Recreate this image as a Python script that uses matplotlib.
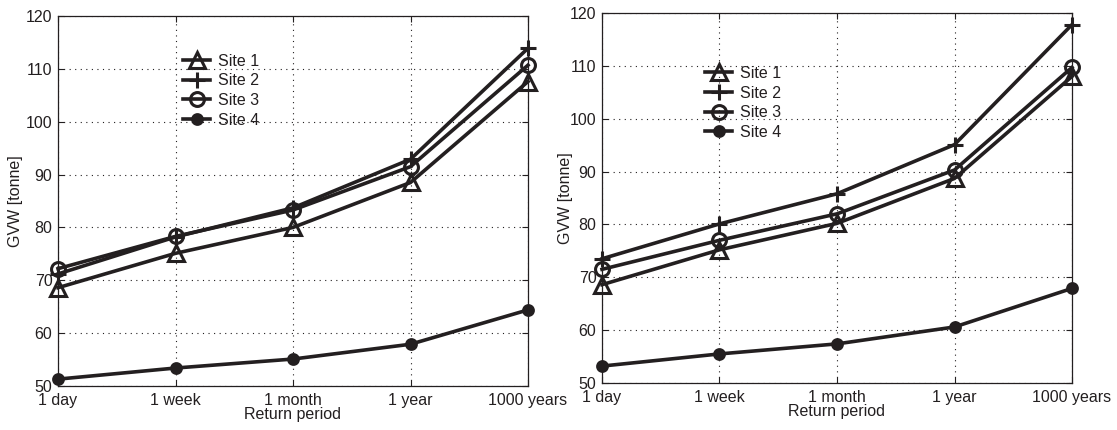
import matplotlib
matplotlib.use("Agg")
import matplotlib.pyplot as plt

plt.rcParams['font.family'] = ['Liberation Sans', 'DejaVu Sans']

periods = ["1 day", "1 week", "1 month", "1 year", "1000 years"]
sites = ["Site 1", "Site 2", "Site 3", "Site 4"]

# GVW per site for each return period, first location
left_site1 = [68.6, 75.1, 80.0, 88.5, 107.6]
left_site2 = [71.2, 78.2, 83.7, 92.9, 113.9]
left_site3 = [72.2, 78.3, 83.3, 91.5, 110.7]
left_site4 = [51.3, 53.4, 55.1, 57.9, 64.4]

# GVW per site for each return period, second location
right_site1 = [68.6, 75.2, 80.2, 88.7, 108.0]
right_site2 = [73.5, 80.1, 85.8, 95.1, 117.8]
right_site3 = [71.5, 77.0, 82.0, 90.3, 109.7]
right_site4 = [53.2, 55.5, 57.4, 60.6, 67.9]

INK = '#231f20'
FS = 11.5
styles = [
    dict(marker='^', markersize=11, markerfacecolor='none'),
    dict(marker='+', markersize=12),
    dict(marker='o', markersize=10, markerfacecolor='none'),
    dict(marker='o', markersize=7, markerfacecolor=INK),
]

W, H = 1117, 430
fig = plt.figure(figsize=(W / 100, H / 100), dpi=100)


def frac(x0, x1, ytop, ybot):
    return [x0 / W, 1 - ybot / H, (x1 - x0) / W, (ybot - ytop) / H]


def panel(rect, series, leg_anchor, ylabel_x):
    ax = fig.add_axes(rect)
    xs = list(range(len(periods)))
    for name, vals, st in zip(sites, series, styles):
        ax.plot(xs, vals, color=INK, linewidth=2.6, markeredgewidth=2.2,
                markeredgecolor=INK, label=name, clip_on=False, **st)
    ax.set_xlim(0, len(periods) - 1)
    ax.set_ylim(50, 120)
    ax.set_xticks(xs)
    ax.set_xticklabels(periods, fontsize=FS, color=INK)
    ax.set_yticks(range(50, 121, 10))
    ax.set_yticklabels([str(v) for v in range(50, 121, 10)], fontsize=FS, color=INK)
    ax.tick_params(direction='in', length=4, width=0.8, top=True, right=True,
                   colors=INK, pad=4)
    ax.tick_params(axis='x', pad=5)
    ax.grid(True, linestyle=(0, (1, 4)), color=INK, linewidth=0.8)
    for s in ax.spines.values():
        s.set_color(INK)
        s.set_linewidth(0.9)
    ax.set_xlabel("Return period", fontsize=FS, color=INK, labelpad=-1)
    ax.set_ylabel("GVW [tonne]", fontsize=FS, color=INK)
    ax.yaxis.set_label_coords(ylabel_x, 0.5)
    ax.legend(loc='upper left', bbox_to_anchor=leg_anchor, frameon=False,
              fontsize=FS, borderpad=0, borderaxespad=0, labelspacing=0.29,
              handlelength=1.7, handletextpad=0.5, labelcolor=INK)
    return ax


panel(frac(58, 528, 16, 386), [left_site1, left_site2, left_site3, left_site4],
      (0.266, 0.898), -0.0745)
panel(frac(602, 1072, 13, 383), [right_site1, right_site2, right_site3, right_site4],
      (0.219, 0.857), -0.062)

fig.savefig("out.png", dpi=100)
